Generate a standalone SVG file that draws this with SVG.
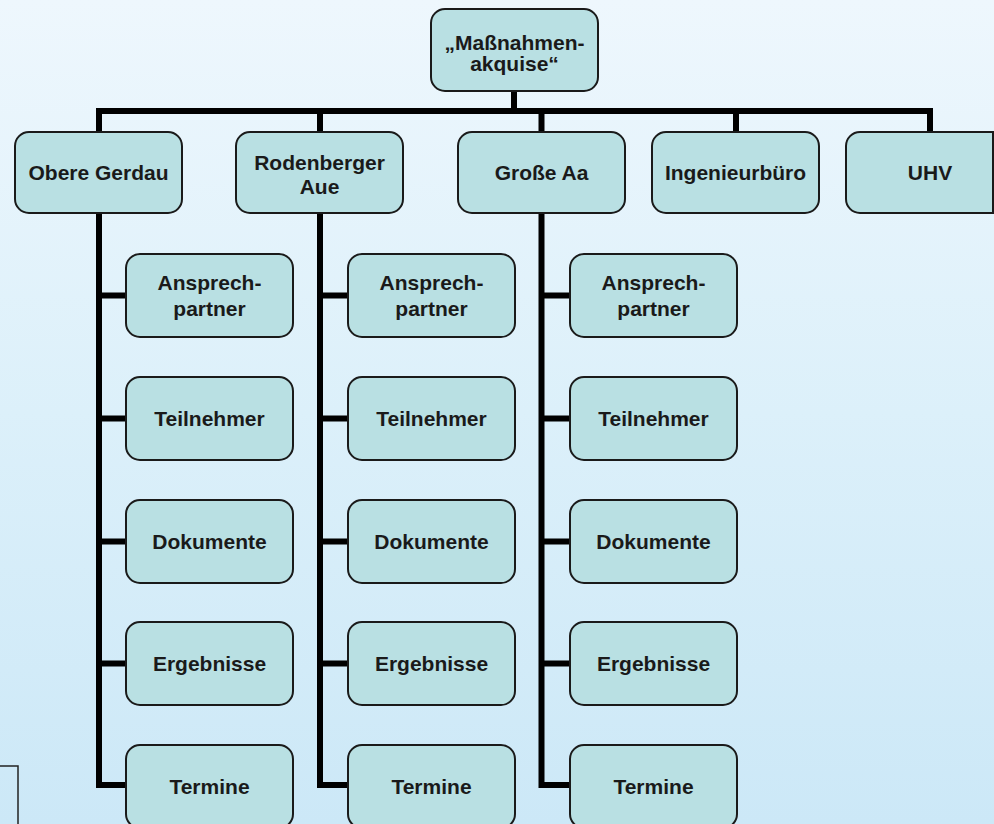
<svg xmlns="http://www.w3.org/2000/svg" width="994" height="824" viewBox="0 0 994 824">
<defs>
<linearGradient id="bg" x1="0" y1="0" x2="0" y2="1">
<stop offset="0" stop-color="#eef7fd"/>
<stop offset="0.5" stop-color="#dcf0fa"/>
<stop offset="1" stop-color="#cce8f7"/>
</linearGradient>
<style>
.box{fill:#b9e0e3;stroke:#1a1a1a;stroke-width:2}
.t{font-family:"Liberation Sans",Arial,sans-serif;font-weight:bold;font-size:21px;fill:#1a1a1a;text-anchor:middle}
.c{fill:none;stroke:#000;stroke-width:6;stroke-linejoin:miter}
</style>
</defs>
<rect x="0" y="0" width="994" height="824" fill="url(#bg)"/>
<rect x="-10" y="766" width="28" height="100" fill="none" stroke="#222" stroke-width="1.5"/>
<g id="connectors">
<path class="c" d="M514 91V111M99 132V111H930V132M320 111V132M541.5 111V132M736 111V132"/>
<path class="c" d="M99 213V785H126M99 295.5H126M99 418.5H126M99 541.5H126M99 663.5H126"/>
<path class="c" d="M320 213V785H348M320 295.5H348M320 418.5H348M320 541.5H348M320 663.5H348"/>
<path class="c" d="M541.5 213V785H570M541.5 295.5H570M541.5 418.5H570M541.5 541.5H570M541.5 663.5H570"/>
</g>
<g id="root"><rect class="box" x="431" y="9" width="167" height="82" rx="14"/><text class="t" x="514.5" y="49.5">„Maßnahmen-</text><text class="t" x="514.5" y="71">akquise“</text></g>
<g id="obere-gerdau"><rect class="box" x="15" y="132" width="167" height="81" rx="14"/><text class="t" x="98.5" y="180">Obere Gerdau</text></g>
<g id="rodenberger-aue"><rect class="box" x="236" y="132" width="167" height="81" rx="14"/><text class="t" x="319.5" y="169.5">Rodenberger</text><text class="t" x="319.5" y="193.5">Aue</text></g>
<g id="grosse-aa"><rect class="box" x="458" y="132" width="167" height="81" rx="14"/><text class="t" x="541.5" y="180">Große Aa</text></g>
<g id="ingenieurbuero"><rect class="box" x="652" y="132" width="167" height="81" rx="14"/><text class="t" x="735.5" y="180">Ingenieurbüro</text></g>
<g id="uhv"><path class="box" d="M993 132H860A14 14 0 0 0 846 146V199A14 14 0 0 0 860 213H993Z"/><text class="t" x="930" y="180">UHV</text></g>
<g id="c1-ansprech"><rect class="box" x="126" y="254" width="167" height="83" rx="14"/><text class="t" x="209.5" y="290">Ansprech-</text><text class="t" x="209.5" y="316">partner</text></g>
<g id="c1-teilnehmer"><rect class="box" x="126" y="377" width="167" height="83" rx="14"/><text class="t" x="209.5" y="426">Teilnehmer</text></g>
<g id="c1-dokumente"><rect class="box" x="126" y="500" width="167" height="83" rx="14"/><text class="t" x="209.5" y="549">Dokumente</text></g>
<g id="c1-ergebnisse"><rect class="box" x="126" y="622" width="167" height="83" rx="14"/><text class="t" x="209.5" y="671">Ergebnisse</text></g>
<g id="c1-termine"><rect class="box" x="126" y="745" width="167" height="83" rx="14"/><text class="t" x="209.5" y="794">Termine</text></g>
<g id="c2-ansprech"><rect class="box" x="348" y="254" width="167" height="83" rx="14"/><text class="t" x="431.5" y="290">Ansprech-</text><text class="t" x="431.5" y="316">partner</text></g>
<g id="c2-teilnehmer"><rect class="box" x="348" y="377" width="167" height="83" rx="14"/><text class="t" x="431.5" y="426">Teilnehmer</text></g>
<g id="c2-dokumente"><rect class="box" x="348" y="500" width="167" height="83" rx="14"/><text class="t" x="431.5" y="549">Dokumente</text></g>
<g id="c2-ergebnisse"><rect class="box" x="348" y="622" width="167" height="83" rx="14"/><text class="t" x="431.5" y="671">Ergebnisse</text></g>
<g id="c2-termine"><rect class="box" x="348" y="745" width="167" height="83" rx="14"/><text class="t" x="431.5" y="794">Termine</text></g>
<g id="c3-ansprech"><rect class="box" x="570" y="254" width="167" height="83" rx="14"/><text class="t" x="653.5" y="290">Ansprech-</text><text class="t" x="653.5" y="316">partner</text></g>
<g id="c3-teilnehmer"><rect class="box" x="570" y="377" width="167" height="83" rx="14"/><text class="t" x="653.5" y="426">Teilnehmer</text></g>
<g id="c3-dokumente"><rect class="box" x="570" y="500" width="167" height="83" rx="14"/><text class="t" x="653.5" y="549">Dokumente</text></g>
<g id="c3-ergebnisse"><rect class="box" x="570" y="622" width="167" height="83" rx="14"/><text class="t" x="653.5" y="671">Ergebnisse</text></g>
<g id="c3-termine"><rect class="box" x="570" y="745" width="167" height="83" rx="14"/><text class="t" x="653.5" y="794">Termine</text></g>
</svg>
